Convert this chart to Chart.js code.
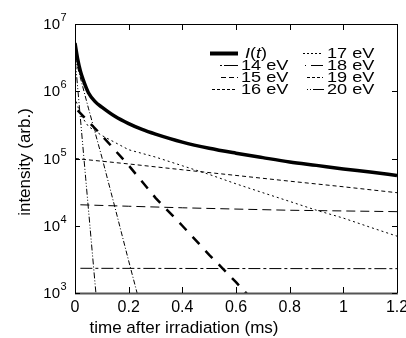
<!DOCTYPE html>
<html>
<head>
<meta charset="utf-8">
<script src="https://cdn.jsdelivr.net/npm/chart.js@4"></script>
<style>
  body { margin: 0; background: #fff; }
  canvas { display: block; }
</style>
</head>
<body>
<canvas id="chart" width="406" height="338"></canvas>
<script>
// time (ms) and intensity (arb.)
const tI = [0, 0.01, 0.02, 0.03, 0.05, 0.075, 0.1, 0.15, 0.2, 0.25, 0.3, 0.4, 0.5, 0.6, 0.7, 0.8, 0.9, 1.0, 1.1, 1.2];
const vI = [5.2e6, 3.0e6, 2.0e6, 1.5e6, 9.5e5, 7.0e5, 5.8e5, 4.2e5, 3.3e5, 2.7e5, 2.3e5, 1.75e5, 1.42e5, 1.2e5, 1.03e5, 8.9e4, 7.9e4, 7.0e4, 6.3e4, 5.6e4];

const t14 = [0.02, 0.6, 1.2];
const v14 = [2.33e3, 2.31e3, 2.3e3];

const t15 = [0.02, 0.2, 0.4, 0.6, 0.8, 1.0, 1.2];
const v15 = [2.05e4, 1.95e4, 1.85e4, 1.77e4, 1.7e4, 1.66e4, 1.62e4];

const t16 = [0, 0.2, 0.4, 0.6, 0.8, 1.0, 1.2];
const v16 = [1.0e5, 8.3e4, 6.8e4, 5.6e4, 4.6e4, 3.8e4, 3.1e4];

const t17 = [0.005, 0.02, 0.05, 0.1, 0.2, 0.3, 0.4, 0.5, 0.6, 0.7, 0.8, 0.9, 1.0, 1.1, 1.2];
const v17 = [7.0e5, 4.5e5, 3.0e5, 2.2e5, 1.35e5, 1.05e5, 7.8e4, 5.8e4, 4.2e4, 3.1e4, 2.3e4, 1.7e4, 1.3e4, 9.5e3, 7.0e3];

const t18 = [0.01, 0.1, 0.2, 0.3, 0.4, 0.5, 0.6, 0.66];
const v18 = [5.2e5, 2.2e5, 7.9e4, 2.6e4, 1.0e4, 3.7e3, 1.45e3, 8.0e2];

const t19 = [0, 0.05, 0.1, 0.15, 0.2, 0.24];
const v19 = [3.2e6, 5.6e5, 1.05e5, 1.8e4, 3.0e3, 7.4e2];

const t20 = [0, 0.02, 0.04, 0.06, 0.08];
const v20 = [3.2e6, 4.0e5, 5.0e4, 6.3e3, 8.0e2];

const xTicks = [0, 0.2, 0.4, 0.6, 0.8, 1.0, 1.2];
const xTickLabels = ['0', '0.2', '0.4', '0.6', '0.8', '1', '1.2'];
const yTickExps = [3, 4, 5, 6, 7];

const FONT = '"Liberation Sans", Arial, sans-serif';

function pts(t, v) {
    return t.map((x, i) => ({ x: x, y: v[i] }));
}

function series(label, t, v, dash, width, legendDash, legendWidth) {
    return {
        label: label,
        data: pts(t, v),
        borderColor: '#000',
        borderWidth: width,
        borderDash: dash,
        legendDash: legendDash || dash,
        legendWidth: legendWidth || width,
        pointRadius: 0,
        fill: false,
        tension: 0,
        clip: 0
    };
}

const datasets = [
    Object.assign(series('I(t)', tI, vI, [], 3.5, [], 4), { cubicInterpolationMode: 'monotone' }),
    series('14 eV', t14, v14, [12, 3, 3, 3], 1, [2, 2, 14, 0]),
    series('15 eV', t15, v15, [9, 5], 1, [5, 3]),
    series('16 eV', t16, v16, [4, 3], 1, [3, 2]),
    series('17 eV', t17, v17, [2, 3], 1, [2, 2]),
    series('18 eV', t18, v18, [10, 9], 2.5, [1, 5, 14, 0], 1),
    series('19 eV', t19, v19, [5, 2, 1, 2], 1, [3, 2]),
    series('20 eV', t20, v20, [1, 2, 1, 2, 6, 2], 1, [1, 2, 1, 2, 12, 0])
];

// legend position: [x of line start, x of line end, x of text, y]
const legendPos = [
    [210, 238, 245, 53],
    [220, 238, 241, 65],
    [221, 238, 241, 77],
    [212, 236, 241, 89],
    [303, 323, 327, 53],
    [305, 323, 327, 65],
    [307, 323, 327, 77],
    [307, 324, 327, 89]
];

const framePlugin = {
    id: 'frame',
    afterDraw(chart) {
        const ctx = chart.ctx;
        const a = chart.chartArea;
        const xs = chart.scales.x;
        const ys = chart.scales.y;

        ctx.save();
        // frame
        ctx.strokeStyle = '#000';
        ctx.lineWidth = 1;
        ctx.setLineDash([]);
        ctx.strokeRect(a.left + 0.5, a.top + 0.5, a.right - a.left, a.bottom - a.top);
        ctx.strokeStyle = '#555';
        ctx.lineWidth = 2;
        ctx.beginPath();
        ctx.moveTo(a.left, a.bottom + 0.5);
        ctx.lineTo(a.right + 1, a.bottom + 0.5);
        ctx.stroke();

        // inward ticks
        ctx.strokeStyle = '#000';
        ctx.lineWidth = 1;
        ctx.beginPath();
        xTicks.forEach(v => {
            const px = Math.round(xs.getPixelForValue(v)) + 0.5;
            ctx.moveTo(px, a.bottom);
            ctx.lineTo(px, a.bottom - 6);
            ctx.moveTo(px, a.top);
            ctx.lineTo(px, a.top + 6);
        });
        yTickExps.forEach(e => {
            const py = Math.round(ys.getPixelForValue(Math.pow(10, e))) + 0.5;
            ctx.moveTo(a.left, py);
            ctx.lineTo(a.left + 5, py);
            ctx.moveTo(a.right, py);
            ctx.lineTo(a.right - 5, py);
        });
        ctx.stroke();

        // tick labels
        ctx.fillStyle = '#000';
        ctx.font = '16px ' + FONT;
        ctx.textAlign = 'center';
        ctx.textBaseline = 'alphabetic';
        xTicks.forEach((v, i) => {
            ctx.fillText(xTickLabels[i], xs.getPixelForValue(v), 312);
        });
        yTickExps.forEach(e => {
            const py = ys.getPixelForValue(Math.pow(10, e));
            ctx.font = '15px ' + FONT;
            ctx.textAlign = 'right';
            ctx.fillText('10', 60, py + 5);
            ctx.font = '11px ' + FONT;
            ctx.textAlign = 'left';
            ctx.fillText(String(e), 60.5, py - 3);
        });

        // axis titles
        ctx.font = '17px ' + FONT;
        ctx.textAlign = 'center';
        ctx.textBaseline = 'middle';
        ctx.fillText('time after irradiation (ms)', 184, 328);
        ctx.save();
        ctx.translate(25, 162);
        ctx.rotate(-Math.PI / 2);
        ctx.fillText('intensity (arb.)', 0, 0);
        ctx.restore();

        // legend
        chart.data.datasets.forEach((ds, i) => {
            const p = legendPos[i];
            ctx.strokeStyle = '#000';
            ctx.lineWidth = ds.legendWidth;
            ctx.setLineDash(ds.legendDash);
            ctx.beginPath();
            ctx.moveTo(p[0], p[3] + 0.5);
            ctx.lineTo(p[1], p[3] + 0.5);
            ctx.stroke();
            ctx.setLineDash([]);

            ctx.save();
            ctx.translate(p[2], p[3] + 0.5);
            ctx.scale(1.25, 1);
            ctx.textAlign = 'left';
            ctx.textBaseline = 'middle';
            if (ds.label === 'I(t)') {
                let x = 0;
                [['I', true], ['(', false], ['t', true], [')', false]].forEach(part => {
                    ctx.font = (part[1] ? 'italic ' : '') + '14.5px ' + FONT;
                    ctx.fillText(part[0], x, 0);
                    x += ctx.measureText(part[0]).width;
                });
            } else {
                ctx.font = '14.5px ' + FONT;
                ctx.fillText(ds.label, 0, 0);
            }
            ctx.restore();
        });
        ctx.restore();
    }
};

new Chart(document.getElementById('chart'), {
    type: 'line',
    data: { datasets: datasets },
    options: {
        responsive: false,
        animation: false,
        layout: { padding: { left: 75, right: 9, top: 24, bottom: 45 } },
        scales: {
            x: { type: 'linear', min: 0, max: 1.2, display: false },
            y: { type: 'logarithmic', min: 1e3, max: 1e7, display: false }
        },
        plugins: {
            legend: { display: false },
            tooltip: { enabled: false }
        }
    },
    plugins: [framePlugin]
});
</script>
</body>
</html>
